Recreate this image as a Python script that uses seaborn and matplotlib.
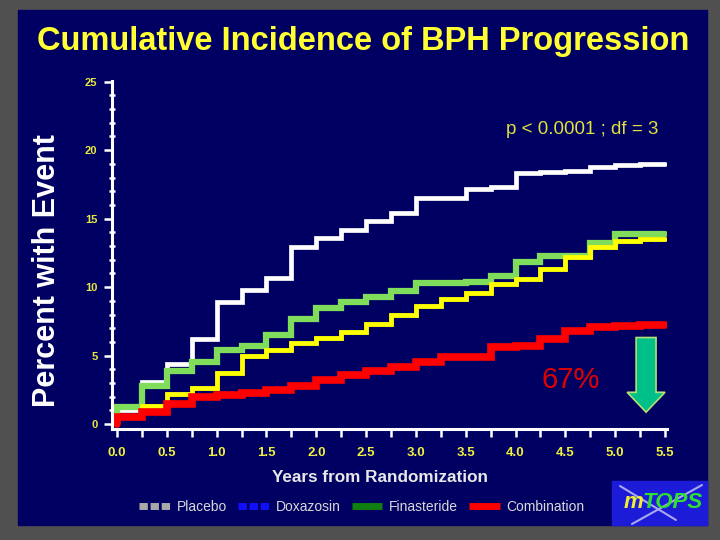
import numpy as np
import matplotlib
matplotlib.use("Agg")
import matplotlib.pyplot as plt
from matplotlib.patches import Rectangle
from matplotlib.lines import Line2D
import seaborn as sns

sns.set_style("white")
plt.rcParams['font.family'] = ['Liberation Sans', 'DejaVu Sans']

# years from randomization (each value holds until the next time)
years = [0.0, 0.25, 0.5, 0.75, 1.0, 1.25, 1.5, 1.75, 2.0, 2.25, 2.5, 2.75,
         3.0, 3.25, 3.5, 3.75, 4.0, 4.25, 4.5, 4.75, 5.0, 5.25, 5.5]

# percent with event
placebo = [1.0, 3.1, 4.4, 6.2, 8.9, 9.8, 10.7, 12.9, 13.6, 14.2, 14.8, 15.4,
           16.5, 16.5, 17.2, 17.3, 18.3, 18.4, 18.5, 18.8, 18.9, 19.0, 19.0]
finasteride = [1.25, 2.8, 3.9, 4.5, 5.4, 5.7, 6.5, 7.7, 8.5, 8.9, 9.3, 9.7,
               10.3, 10.3, 10.4, 10.8, 11.8, 12.3, 12.3, 13.2, 13.85, 13.9, 13.9]
doxazosin = [0.5, 1.3, 2.2, 2.6, 3.7, 5.0, 5.4, 5.9, 6.3, 6.7, 7.3, 8.0,
             8.65, 9.1, 9.6, 10.2, 10.6, 11.3, 12.2, 12.9, 13.4, 13.5, 13.5]
combination = [0.5, 0.9, 1.5, 2.0, 2.1, 2.3, 2.5, 2.8, 3.2, 3.6, 3.9, 4.2,
               4.5, 4.9, 4.9, 5.6, 5.7, 6.2, 6.8, 7.1, 7.15, 7.2, 7.2]

legend_names = ["Placebo", "Doxazosin", "Finasteride", "Combination"]

navy = '#000062'
fig = plt.figure(figsize=(7.2, 5.4), dpi=100, facecolor='#505050')
# blue slide panel, kept behind the axes
fig.patches.append(Rectangle((18/720, 1-525/540), 689/720, 515/540,
                             transform=fig.transFigure, color=navy, zorder=-10))

ax = fig.add_axes([112/720, 1-429/540, 555/720, 348/540])
ax.set_facecolor('none')
ax.set_zorder(2)

# draw order: placebo, finasteride, doxazosin, combination (red on top)
curves = [(placebo, '#FFFFFF', 3.4), (finasteride, '#80DD5C', 4.5),
          (doxazosin, '#FFFF00', 3.5), (combination, '#FF0000', 5.5)]
for vals, col, lw in curves:
    sns.lineplot(x=[0.0] + years, y=[0.0] + vals, color=col, lw=lw,
                 drawstyle='steps-post', estimator=None, sort=False,
                 solid_joinstyle='miter', ax=ax)

ax.set_xlim(-0.05, 5.52)
ax.set_ylim(-0.36, 25.05)
ax.set_xticks(np.arange(0, 5.51, 0.5))
ax.set_xticks(np.arange(0, 5.51, 0.25), minor=True)
ax.set_xticklabels(['%.1f' % v for v in np.arange(0, 5.51, 0.5)])
ax.set_yticks([0, 5, 10, 15, 20, 25])
ax.set_yticks(range(0, 26), minor=True)

for s in ['top', 'right']:
    ax.spines[s].set_visible(False)
for s in ['left', 'bottom']:
    ax.spines[s].set_color('white')
    ax.spines[s].set_linewidth(2.2)

# seaborn's white style switches tick marks off, turn them back on
ax.tick_params(axis='x', which='both', bottom=True, direction='out', length=6,
               width=1.8, color='white', pad=7, labelsize=9.5, labelcolor='#F0F040')
ax.tick_params(axis='y', which='major', left=True, direction='out', length=5.5,
               width=1.8, color='white', pad=5, labelsize=8, labelcolor='#E8E840')
ax.tick_params(axis='y', which='minor', left=True, direction='inout', length=4.5,
               width=1.8, color='white')
for lab in ax.get_xticklabels() + ax.get_yticklabels():
    lab.set_fontweight('bold')
ax.set_xlabel('')
ax.set_ylabel('')

# text
fig.text(363/720, 1-42/540, 'Cumulative Incidence of BPH Progression',
         ha='center', va='center', fontsize=23.5, fontweight='bold', color='#FFFF33')
fig.text(47/720, 1-271/540, 'Percent with Event', rotation=90, ha='center',
         va='center', fontsize=22, fontweight='bold', color='white')
fig.text(380/720, 1-478/540, 'Years from Randomization', ha='center',
         va='center', fontsize=12.3, fontweight='bold', color='#E8E8E8')
ax.text(5.43, 21.5, 'p < 0.0001 ; df = 3', ha='right', va='center',
        fontsize=13.5, color='#E0E040')
ax.text(4.55, 3.2, '67%', ha='center', va='center', fontsize=21, color='#E00000')

# reduction arrow
ax.arrow(5.31, 6.32, 0, -5.45, width=0.2, head_width=0.38, head_length=1.45,
         length_includes_head=True, fc='#00C08A', ec='#B8E070', lw=1.2, zorder=5)

# legend
handles = [Line2D([], [], color='#A8A8A8', lw=5, ls=(0, (1.2, 0.4))),
           Line2D([], [], color='#1010FF', lw=5, ls=(0, (1.2, 0.4))),
           Line2D([], [], color='#108010', lw=5, solid_capstyle='butt'),
           Line2D([], [], color='#FF0000', lw=5, solid_capstyle='butt')]
leg = fig.legend(handles, legend_names, loc='center', bbox_to_anchor=(362/720, 1-507/540),
                 ncol=4, frameon=False, fontsize=10, handlelength=2.2,
                 handletextpad=0.5, columnspacing=0.8, labelcolor='#D8D8D8')

# MTOPS logo
fig.patches.append(Rectangle((612/720, 1-525/540), 95/720, 44/540,
                             transform=fig.transFigure, color='#1C1CD8', zorder=1))
fig.lines.append(Line2D([620/720, 676/720], [1-486/540, 1-520/540],
                        transform=fig.transFigure, color='#A8A8F0', lw=1.5, zorder=2))
fig.lines.append(Line2D([702/720, 632/720], [1-485/540, 1-524/540],
                        transform=fig.transFigure, color='#A8A8F0', lw=1.5, zorder=2))
fig.text(634/720, 1-502/540, 'm', ha='center', va='center', fontsize=16,
         fontweight='bold', style='italic', color='#F0F030', zorder=3)
fig.text(673/720, 1-502/540, 'TOPS', ha='center', va='center', fontsize=16,
         fontweight='bold', style='italic', color='#30E030', zorder=3)

fig.savefig('out.png', dpi=100, facecolor=fig.get_facecolor())
